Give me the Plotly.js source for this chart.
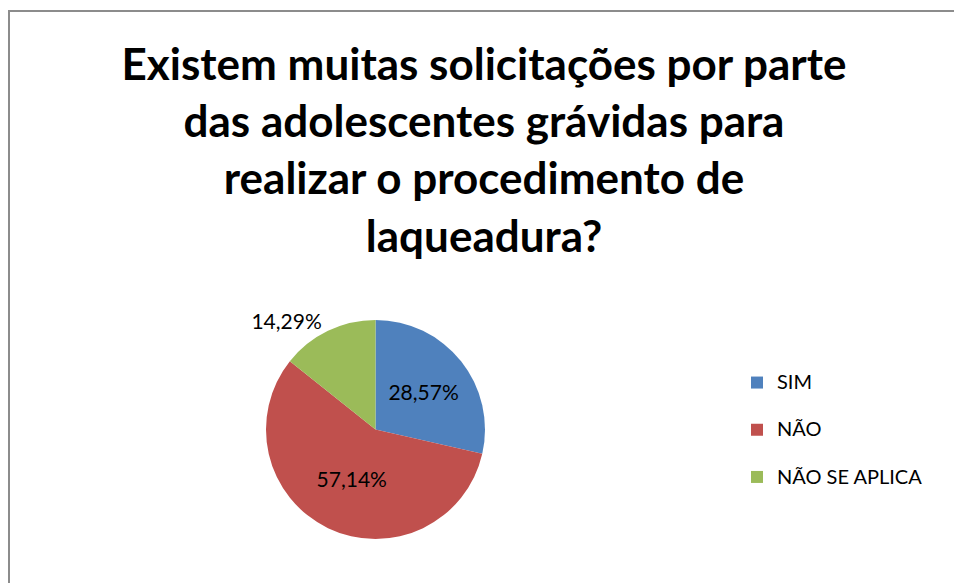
<!DOCTYPE html>
<html>
<head>
<meta charset="utf-8">
<script src="https://cdn.plot.ly/plotly-3.0.1.min.js"></script>
<style>
html,body{margin:0;padding:0;background:#fff;}
#chart{width:954px;height:583px;}
</style>
</head>
<body>
<div id="chart"></div>
<script>
const categories = ['SIM', 'NÃO', 'NÃO SE APLICA'];
const percentValues = [28.57, 57.14, 14.29];
const percentLabels = ['28,57%', '57,14%', '14,29%'];
const sliceColors = ['#4F81BD', '#C0504D', '#9BBB59'];
const titleText = 'Existem muitas solicitações por parte<br>das adolescentes grávidas para<br>realizar o procedimento de<br>laqueadura?';

const W = 954, H = 583;
const cx = 375.5, cy = 429.5, r = 109.5;

const trace = {
  type: 'pie',
  labels: categories.map(c => '<span style="font-size:20px">' + c + '</span><br> '),
  values: percentValues,
  text: percentLabels,
  textinfo: 'text',
  textposition: ['inside', 'inside', 'outside'],
  sort: false,
  direction: 'clockwise',
  rotation: 0,
  marker: {colors: sliceColors, line: {color: '#ffffff', width: 0}},
  insidetextfont: {family: 'Lato, sans-serif', size: 21, color: '#000000'},
  outsidetextfont: {family: 'Lato, sans-serif', size: 21, color: '#000000'},
  insidetextorientation: 'horizontal',
  hoverinfo: 'none',
  domain: {
    x: [(cx - r) / W, (cx + r) / W],
    y: [(H - cy - r) / H, (H - cy + r) / H]
  },
  automargin: false
};

const layout = {
  width: W, height: H,
  margin: {l: 0, r: 0, t: 0, b: 0},
  paper_bgcolor: '#ffffff',
  plot_bgcolor: '#ffffff',
  font: {family: 'Lato, sans-serif', color: '#000000'},
  title: {
    text: titleText,
    font: {family: 'Lato, sans-serif', size: 44, color: '#000000', weight: 'bold'},
    x: 484 / W, xanchor: 'center',
    y: 1 - 80 / H, yanchor: 'top', yref: 'container'
  },
  showlegend: true,
  legend: {
    x: 737 / W, xanchor: 'left',
    y: 1 - 365 / H, yanchor: 'top',
    font: {family: 'Lato, sans-serif', size: 17, color: '#000000'},
    valign: 'top',
    bgcolor: 'rgba(0,0,0,0)'
  },
  shapes: [
    {type: 'line', xref: 'paper', yref: 'paper', x0: 9 / W, x1: 9 / W, y0: -0.05, y1: 1 - 11 / H,
     line: {color: '#8c8c8c', width: 2}},
    {type: 'line', xref: 'paper', yref: 'paper', x0: 8 / W, x1: 1.05, y0: 1 - 11 / H, y1: 1 - 11 / H,
     line: {color: '#8c8c8c', width: 2}}
  ]
};

Plotly.newPlot('chart', [trace], layout, {displayModeBar: false, staticPlot: true});
</script>
</body>
</html>
